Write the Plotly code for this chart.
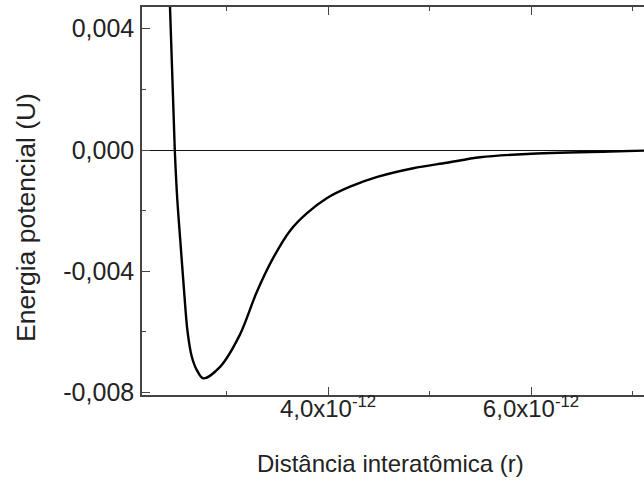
import plotly.graph_objects as go

# Data (r in metres, U in arbitrary energy units)
r_values = [2.442e-12, 2.490e-12, 2.515e-12, 2.544e-12, 2.581e-12, 2.614e-12,
            2.657e-12, 2.706e-12, 2.771e-12, 2.936e-12, 3.133e-12, 3.298e-12,
            3.461e-12, 3.626e-12, 3.790e-12, 3.987e-12, 4.217e-12, 4.493e-12,
            4.840e-12, 5.169e-12, 5.498e-12, 5.961e-12, 6.778e-12, 7.113e-12]
u_values = [0.00480, 0.00000, -0.00165, -0.00297, -0.00462, -0.00594,
            -0.00681, -0.00725, -0.00753, -0.00715, -0.00608, -0.00468,
            -0.00355, -0.00266, -0.00209, -0.00159, -0.00121, -0.00088,
            -0.00060, -0.00042, -0.00024, -0.00013, -0.00005, -0.00002]

x_tickvals = [4.0e-12, 6.0e-12]
x_ticktext = ["4,0x10<sup>-12</sup>", "6,0x10<sup>-12</sup>"]
x_minor = [3.0e-12, 5.0e-12, 7.0e-12]
y_tickvals = [0.004, 0.000, -0.004, -0.008]
y_ticktext = ["0,004", "0,000", "-0,004", "-0,008"]
y_minor = [0.002, -0.002, -0.006]

x_title = "Distância interatômica (r)"
y_title = "Energia potencial (U)"

FONT = "Liberation Sans, Arial, sans-serif"
AXC = "#444444"
TXT = "#222222"

fig = go.Figure()
fig.add_trace(go.Scatter(
    x=r_values, y=u_values, mode="lines",
    line=dict(color="black", width=2.4, shape="spline", smoothing=0.9),
    hoverinfo="skip", showlegend=False,
))

fig.update_layout(
    width=644, height=485,
    margin=dict(l=142, r=0, t=7, b=90),
    paper_bgcolor="white", plot_bgcolor="white",
    font=dict(family=FONT, size=24, color=TXT),
    xaxis=dict(
        range=[2.167e-12, 7.113e-12],
        tickmode="array", tickvals=x_tickvals, ticktext=x_ticktext,
        ticks="inside", ticklen=8, tickwidth=1.3, tickcolor=AXC,
        showline=True, linecolor=AXC, linewidth=1.6, mirror="ticks",
        showgrid=False, zeroline=False,
        minor=dict(tickmode="array", tickvals=x_minor, ticks="inside",
                   ticklen=4, tickwidth=1.3, tickcolor=AXC, showgrid=False),
        tickfont=dict(family=FONT, size=24, color=TXT),
        ticklabelstandoff=-9,
    ),
    yaxis=dict(
        range=[-0.008078, 0.004715],
        tickmode="array", tickvals=y_tickvals, ticktext=y_ticktext,
        ticks="inside", ticklen=8, tickwidth=1.3, tickcolor=AXC,
        showline=True, linecolor=AXC, linewidth=1.6, mirror=False,
        showgrid=False,
        zeroline=True, zerolinecolor="#111111", zerolinewidth=1.2,
        minor=dict(tickmode="array", tickvals=y_minor, ticks="inside",
                   ticklen=4, tickwidth=1.3, tickcolor=AXC, showgrid=False),
        tickfont=dict(family=FONT, size=25, color=TXT),
        ticklabelstandoff=1,
    ),
    annotations=[
        dict(text=x_title, xref="paper", yref="paper", x=(390 - 142) / 502,
             y=(395 - 463) / 388, xanchor="center", yanchor="middle",
             showarrow=False, font=dict(family=FONT, size=24, color=TXT)),
        dict(text=y_title, xref="paper", yref="paper", x=(26 - 142) / 502,
             y=(395 - 218) / 388, xanchor="center", yanchor="middle",
             showarrow=False, textangle=-90,
             font=dict(family=FONT, size=26.5, color=TXT)),
    ],
)

fig.write_html(
    "out.html",
    config={"displayModeBar": False},
    post_script="document.body.style.margin='0';document.body.style.padding='0';",
)
